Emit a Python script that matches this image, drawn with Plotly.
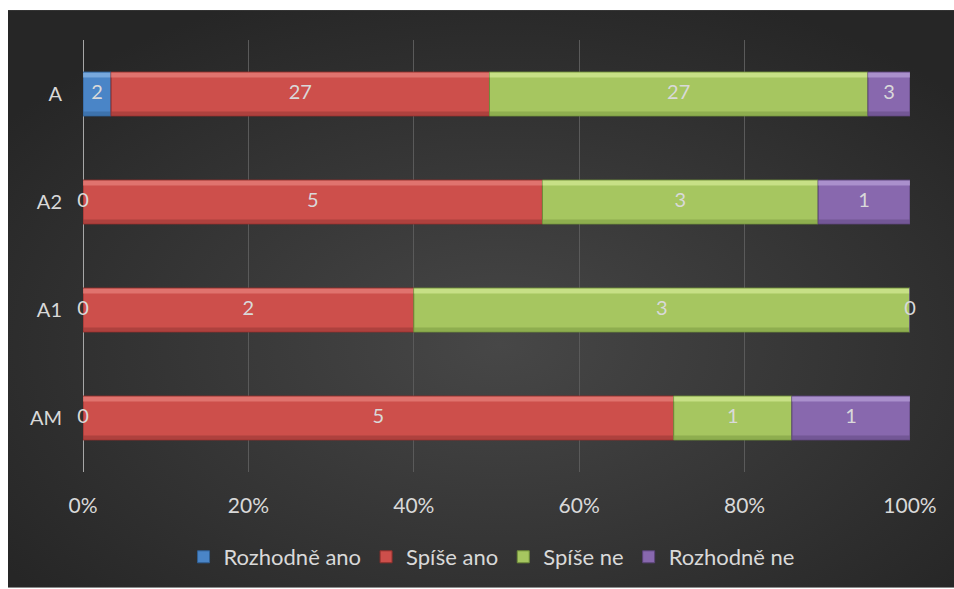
import base64
import plotly.graph_objects as go

# Survey answers per group (counts), groups listed bottom -> top
groups = ["AM", "A1", "A2", "A"]
series_names = ["Rozhodně ano", "Spíše ano", "Spíše ne", "Rozhodně ne"]
rozhodne_ano = [0, 0, 0, 2]
spise_ano = [5, 2, 5, 27]
spise_ne = [1, 3, 3, 27]
rozhodne_ne = [1, 0, 1, 3]
x_ticks = [0, 20, 40, 60, 80, 100]
x_tick_labels = ["0%", "20%", "40%", "60%", "80%", "100%"]

series_values = [rozhodne_ano, spise_ano, spise_ne, rozhodne_ne]
colors = ["#4A85C7", "#CD4F4B", "#A6C660", "#8868AE"]
edge_colors = ["#2F5F94", "#8E2F2C", "#6F8E3A", "#5B4478"]
highlight = ["#9CC4EE", "#F0918D", "#E2F5A6", "#C6B0E6"]
shadow = ["#356599", "#9A3835", "#7F9E45", "#654C86"]

FONT = "Lato"
TXT = "#D9D9D9"

totals = [sum(col) for col in zip(*series_values)]
pcts = [[v / t * 100 for v, t in zip(vals, totals)] for vals in series_values]

# cumulative start of each segment
bases = []
run = [0.0] * len(groups)
for p in pcts:
    bases.append(list(run))
    run = [r + q for r, q in zip(run, p)]

BAR_W = 0.406
fig = go.Figure()

for i, name in enumerate(series_names):
    fig.add_trace(go.Bar(
        y=groups, x=pcts[i], base=bases[i], orientation="h", name=name,
        width=BAR_W, offset=-BAR_W / 2,
        marker=dict(color=colors[i], line=dict(color=edge_colors[i], width=1)),
        hoverinfo="skip",
    ))
    # bevel: light strip along the top, darker strip along the bottom
    fig.add_trace(go.Bar(
        y=groups, x=pcts[i], base=bases[i], orientation="h", showlegend=False,
        width=0.045, offset=BAR_W / 2 - 0.05,
        marker=dict(color=highlight[i], opacity=0.55, line=dict(width=0)),
        hoverinfo="skip",
    ))
    fig.add_trace(go.Bar(
        y=groups, x=pcts[i], base=bases[i], orientation="h", showlegend=False,
        width=0.035, offset=-BAR_W / 2 + 0.006,
        marker=dict(color=shadow[i], opacity=0.6, line=dict(width=0)),
        hoverinfo="skip",
    ))

# value labels centred in each segment (zero counts sit on the segment edge)
lx, ly, lt = [], [], []
for i in range(len(series_names)):
    for j, g in enumerate(groups):
        lx.append(bases[i][j] + pcts[i][j] / 2)
        ly.append(g)
        lt.append(str(series_values[i][j]))
fig.add_trace(go.Scatter(
    x=lx, y=ly, text=lt, mode="text", showlegend=False, hoverinfo="skip",
    textfont=dict(family=FONT, size=20, color=TXT), cliponaxis=False,
))

# radial background
svg = (
    '<svg xmlns="http://www.w3.org/2000/svg" width="946" height="579" '
    'preserveAspectRatio="none" viewBox="0 0 946 579">'
    '<defs><radialGradient id="g" cx="52%" cy="58%" r="65%">'
    '<stop offset="0" stop-color="#474747"/>'
    '<stop offset="1" stop-color="#262626"/>'
    '</radialGradient></defs>'
    '<rect width="946" height="579" fill="url(#g)"/></svg>'
)
src = "data:image/svg+xml;base64," + base64.b64encode(svg.encode()).decode()

L, R, T, B = 83, 910, 40, 473
W, H = 954, 589
pw, ph = R - L, B - T
fig.add_layout_image(
    source=src, xref="paper", yref="paper",
    x=(8 - L) / pw, y=(B - 10) / ph, sizex=(W - 8) / pw, sizey=(H - 10) / ph,
    xanchor="left", yanchor="top", sizing="stretch", layer="below",
)

fig.update_layout(
    width=W, height=H,
    margin=dict(l=L, r=W - R, t=T, b=H - B),
    paper_bgcolor="white", plot_bgcolor="rgba(0,0,0,0)",
    barmode="overlay", bargap=0.594,
    font=dict(family=FONT, size=20, color=TXT),
    showlegend=True,
    legend=dict(
        orientation="h", x=0.494, xanchor="center", y=(B - 557) / ph, yanchor="middle",
        font=dict(family=FONT, size=22, color=TXT), bgcolor="rgba(0,0,0,0)",
        traceorder="normal", itemwidth=30,
    ),
    xaxis=dict(
        range=[0, 100], tickmode="array", tickvals=x_ticks, ticktext=x_tick_labels,
        showgrid=True, gridcolor="#5A5A5A", gridwidth=1, zeroline=False, showline=False,
        ticks="outside", ticklen=0, ticklabelstandoff=15,
        tickfont=dict(family=FONT, size=21, color=TXT), fixedrange=True,
    ),
    yaxis=dict(
        categoryorder="array", categoryarray=groups, range=[-0.5, 3.5],
        showgrid=False, zeroline=False, showline=False,
        ticks="outside", ticklen=0, ticklabelstandoff=16,
        tickfont=dict(family=FONT, size=20, color=TXT), fixedrange=True,
    ),
)

# vertical axis line at 0%
fig.add_shape(type="line", xref="x", yref="paper", x0=0, x1=0, y0=0, y1=1,
              line=dict(color="#A6A6A6", width=2), layer="below")

fig.write_html("out.html")
